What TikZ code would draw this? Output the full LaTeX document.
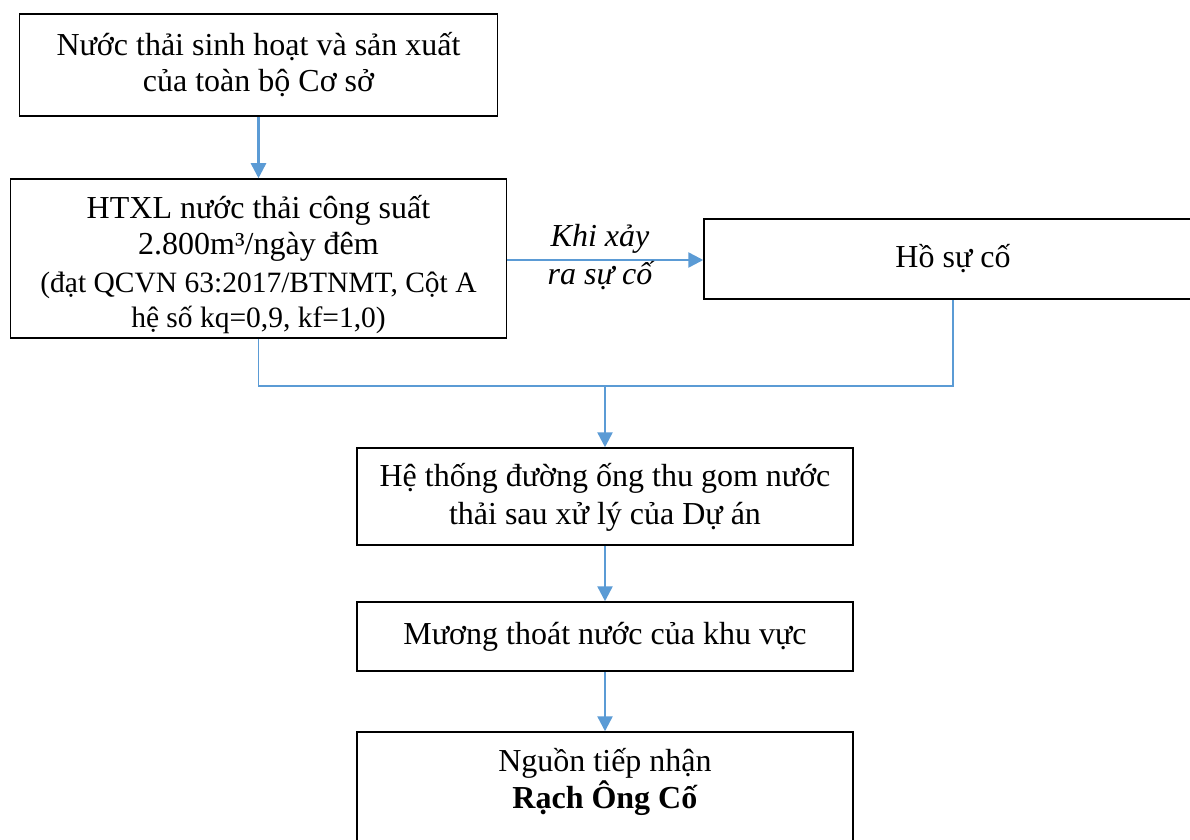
\documentclass[tikz,border=0pt]{standalone}
\usepackage{fontspec}
\setmainfont{Liberation Serif}
\usetikzlibrary{arrows.meta}
\definecolor{flowblue}{RGB}{91,155,213}
\newcommand{\smalltxt}{\fontsize{11.8pt}{13.2pt}\selectfont}
\begin{document}
\begin{tikzpicture}[x=0.4pt,y=-0.4pt,
  box/.style={draw=black,line width=0.6pt,rectangle,inner sep=0pt,align=center,
    font=\fontsize{12.8pt}{14.4pt}\selectfont},
  txt/.style={inner sep=0pt,align=center,font=\fontsize{12.8pt}{15pt}\selectfont},
  flow/.style={draw=flowblue,line width=1pt,-{Triangle[width=6pt,length=6pt]}},
  joinline/.style={draw=flowblue,line width=0.45pt}]
\useasboundingbox (0,0) rectangle (1190,839);
\clip (0,0) rectangle (1190,839);
\fill[white] (0,0) rectangle (1190,839);

% process boxes
\node[box,minimum width=191.2pt,minimum height=40.8pt] (src) at (258.5,65)
  {Nước thải sinh hoạt và sản xuất\\của toàn bộ Cơ sở};
\node[box,minimum width=198.4pt,minimum height=63.6pt] (htxl) at (258.5,258.5) {};
\node[txt,font=\fontsize{12.8pt}{14.2pt}\selectfont] (htxltxt) at (258.5,265)
  {HTXL nước thải công suất\\2.800m³/ngày đêm\\[1pt]
   \smalltxt (đạt QCVN 63:2017/BTNMT, Cột A\\\smalltxt hệ số kq=0,9, kf=1,0)};
\node[box,minimum width=199.2pt,minimum height=32pt] (ho) at (953,259) {Hồ sự cố};
\node[box,minimum width=198.4pt,minimum height=38.8pt] (ong) at (605,496.5) {};
\node[txt] (ongtxt) at (605,497.5)
  {Hệ thống đường ống thu gom nước\\thải sau xử lý của Dự án};
\node[box,minimum width=198.4pt,minimum height=27.6pt] (muong) at (605,636.5)
  {Mương thoát nước của khu vực};
\node[box,minimum width=198.4pt,minimum height=48pt] (nguon) at (605,792) {};
\node[txt] (nguontxt) at (605,782) {Nguồn tiếp nhận\\\textbf{Rạch Ông Cố}};

% connectors
\coordinate (j) at (605,386);
\draw[flow] (src.south) -- (htxl.north);
\draw[flow] (htxl.east |- 0,260) -- (ho.west |- 0,260);
\node[txt,font=\fontsize{12.8pt}{15pt}\selectfont\itshape] (khi) at (600,257)
  {Khi xảy\\ra sự cố};
\draw[joinline] (htxl.south) |- (j) -| (ho.south);
\draw[flow] (j) -- (ong.north);
\draw[flow] (ong.south) -- (muong.north);
\draw[flow] (muong.south) -- (nguon.north);
\end{tikzpicture}
\end{document}
